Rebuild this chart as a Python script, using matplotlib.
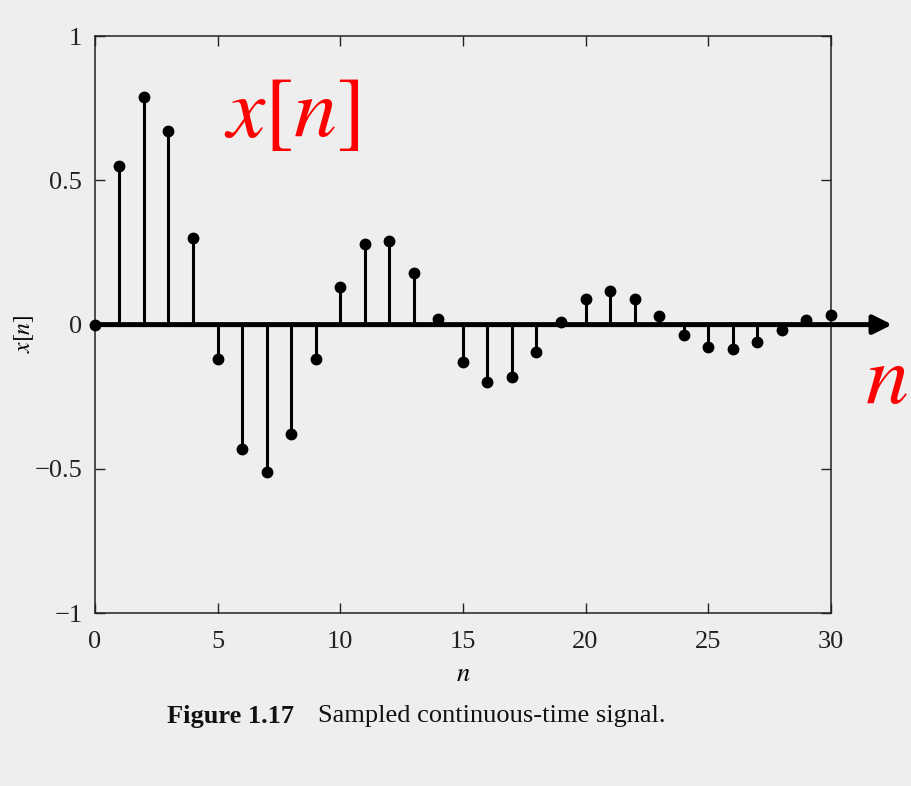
import matplotlib
matplotlib.use("Agg")
import matplotlib.pyplot as plt
import numpy as np

n = np.arange(0, 31)
x_n = [0.0, 0.55, 0.79, 0.67, 0.30, -0.12, -0.43, -0.51, -0.38, -0.12,
       0.13, 0.28, 0.29, 0.18, 0.02, -0.13, -0.20, -0.18, -0.095, 0.01,
       0.09, 0.115, 0.09, 0.03, -0.035, -0.077, -0.083, -0.06, -0.02, 0.016,
       0.035]
x_ticks = [0, 5, 10, 15, 20, 25, 30]
y_ticks = [-1, -0.5, 0, 0.5, 1]
y_tick_labels = ["\u22121", "\u22120.5", "0", "0.5", "1"]

plt.rcParams["font.family"] = ["Liberation Serif", "DejaVu Serif"]
plt.rcParams["mathtext.fontset"] = "stix"

bg = "#eeeeee"
fig = plt.figure(figsize=(9.12, 7.86), dpi=100, facecolor=bg)
ax = fig.add_axes([0.104, 0.22, 0.807, 0.734], facecolor=bg)

markers, stems, base = ax.stem(n, x_n, basefmt=" ")
plt.setp(stems, color="black", linewidth=2.2)
plt.setp(markers, color="black", markersize=7.5, clip_on=False, zorder=4)

# thick zero axis with arrow past the box
ax.annotate("", xy=(32.5, 0), xytext=(0, 0), annotation_clip=False,
            arrowprops=dict(arrowstyle="-|>", lw=3.6, color="black",
                            mutation_scale=28, shrinkA=0, shrinkB=0),
            zorder=3)

ax.set_xlim(0, 30)
ax.set_ylim(-1, 1)
ax.set_xticks(x_ticks)
ax.set_yticks(y_ticks)
ax.set_yticklabels(y_tick_labels)
ax.tick_params(direction="in", top=True, right=True, length=7, width=1,
               labelsize=19, colors="#222222")
ax.tick_params(axis="x", pad=13)
ax.tick_params(axis="y", pad=9)
for s in ax.spines.values():
    s.set_linewidth(1.1)
    s.set_color("#222222")

ax.set_xlabel(r"$n$", fontsize=19, labelpad=8)
ax.set_ylabel(r"$x[n]$", fontsize=17)
ax.yaxis.set_label_coords(-0.080, 0.484)

ax.text(0.267, 0.862, r"$x[n]$", transform=ax.transAxes, color="red",
        fontsize=62, ha="center", va="center")
fig.text(0.972, 0.512, r"$n$", color="red", fontsize=62,
         ha="center", va="center")

fig.text(0.183, 0.089, "Figure 1.17", fontsize=19, fontweight="bold",
         ha="left", va="center", color="#111111")
fig.text(0.349, 0.089, "Sampled continuous-time signal.", fontsize=19,
         ha="left", va="center", color="#111111")

fig.savefig("out.png", dpi=100, facecolor=bg)
